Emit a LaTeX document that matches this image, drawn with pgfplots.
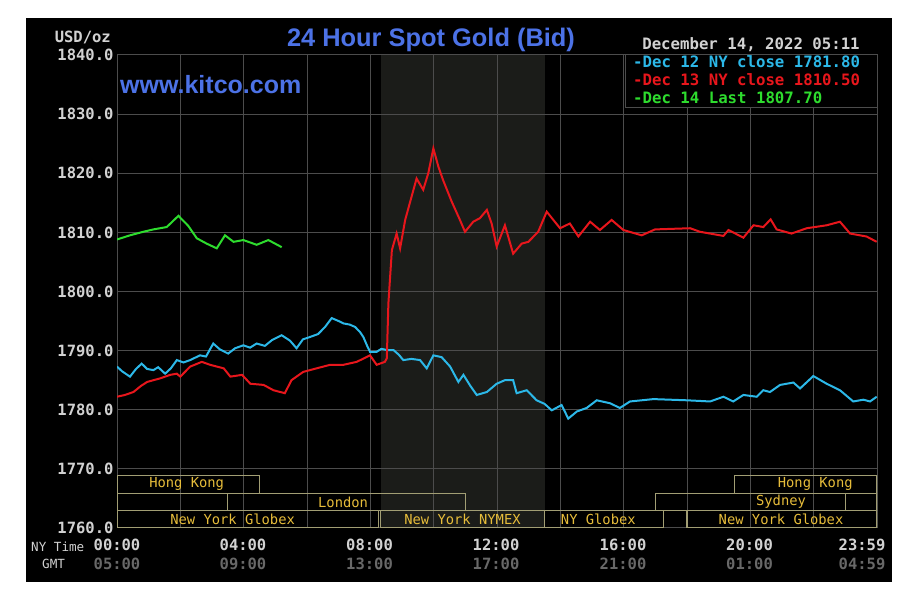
\documentclass[border=0pt]{standalone}
\usepackage{pgfplots}
\pgfplotsset{compat=1.18}
\usepackage{fontspec}
\setmainfont{Liberation Sans}
\newfontfamily\mono{DejaVu Sans Mono}

\definecolor{gridc}{HTML}{4C4C4C}
\definecolor{shadec}{HTML}{1B1C19}
\definecolor{tickc}{HTML}{D2D2D2}
\definecolor{gmtc}{HTML}{686868}
\definecolor{kitco}{HTML}{4C72E6}
\definecolor{boxc}{HTML}{A29E74}
\definecolor{mktc}{HTML}{E6BC3A}
\definecolor{s12}{HTML}{2CB8E8}
\definecolor{s13}{HTML}{E8161C}
\definecolor{s14}{HTML}{2EDC2E}

\begin{document}
\begin{tikzpicture}
\begin{scope}[x=1pt,y=1pt]
\fill[white] (0,0) rectangle (912,602);
\fill[black] (26,20) rectangle (892,584);
% NYMEX session shading, 08:20 to 13:30
\fill[shadec] (380.9,74) rectangle (544.5,547);
\end{scope}

\begin{axis}[
    at={(117pt,74pt)}, anchor=south west,
    scale only axis, width=760pt, height=473pt,
    xmin=0, xmax=24, ymin=1760, ymax=1840,
    xtick={0,2,...,24}, xticklabels={},
    ytick={1760,1770,...,1840},
    yticklabels={1760.0,1770.0,1780.0,1790.0,1800.0,1810.0,1820.0,1830.0,1840.0},
    yticklabel style={font=\mono\bfseries\fontsize{15.5}{18}\selectfont, text=tickc},
    major tick length=0pt,
    grid=major,
    major grid style={gridc, line width=1pt},
    axis line style={gridc, line width=1pt},
    ]
  % market session boxes
  \begin{scope}[boxc, line width=1.2pt]
    \draw (axis cs:0,1765.9) rectangle (axis cs:4.5,1768.85);
    \draw (axis cs:19.5,1765.9) rectangle (axis cs:24,1768.85);
    \draw (axis cs:0,1762.95) rectangle (axis cs:3.5,1765.9);
    \draw (axis cs:3.5,1762.95) rectangle (axis cs:11,1765.9);
    \draw (axis cs:17,1762.95) rectangle (axis cs:23,1765.9);
    \draw (axis cs:23,1762.95) rectangle (axis cs:24,1765.9);
    \draw (axis cs:0,1760) rectangle (axis cs:8.25,1762.95);
    \draw (axis cs:8.333,1760) rectangle (axis cs:13.5,1762.95);
    \draw (axis cs:13.5,1760) rectangle (axis cs:17.25,1762.95);
    \draw (axis cs:18,1760) rectangle (axis cs:24,1762.95);
  \end{scope}
  \begin{scope}[every node/.style={text=mktc, font=\mono\fontsize{13.8}{16}\selectfont, inner sep=0pt}]
    \node at (axis cs:2.2,1767.4) {Hong Kong};
    \node at (axis cs:7.14,1764.4) {London};
    \node at (axis cs:3.65,1761.45) {New York Globex};
    \node at (axis cs:10.91,1761.45) {New York NYMEX};
    \node at (axis cs:15.2,1761.45) {NY Globex};
    \node at (axis cs:20.97,1761.45) {New York Globex};
    \node at (axis cs:20.97,1764.4) {Sydney};
    \node at (axis cs:22.05,1767.4) {Hong Kong};
  \end{scope}

  % Dec 12 NY close
  \addplot[s12, line width=2pt] coordinates {
    (0.00,1787.3) (0.16,1786.5) (0.41,1785.6) (0.60,1786.9) (0.78,1787.8)
    (0.95,1786.9) (1.15,1786.7) (1.30,1787.2) (1.52,1786.1) (1.70,1787.0)
    (1.89,1788.4) (2.10,1788.0) (2.31,1788.4) (2.62,1789.2) (2.81,1789.0)
    (3.04,1791.2) (3.25,1790.2) (3.51,1789.5) (3.73,1790.4) (3.99,1790.9)
    (4.20,1790.5) (4.41,1791.2) (4.67,1790.8) (4.90,1791.8) (5.20,1792.6)
    (5.46,1791.7) (5.67,1790.4) (5.87,1791.9) (6.09,1792.3) (6.35,1792.8)
    (6.57,1794.0) (6.78,1795.5) (7.00,1795.0) (7.15,1794.6) (7.35,1794.4)
    (7.52,1794.0) (7.68,1793.1) (7.78,1792.3) (7.90,1790.8) (7.99,1789.8)
    (8.20,1789.8) (8.35,1790.3) (8.52,1790.1) (8.73,1790.1) (8.90,1789.3)
    (9.04,1788.4) (9.30,1788.6) (9.57,1788.4) (9.78,1787.0) (9.99,1789.2)
    (10.25,1788.9) (10.52,1787.3) (10.78,1784.7) (10.94,1785.9) (11.15,1784.1)
    (11.36,1782.5) (11.68,1783.0) (11.99,1784.4) (12.25,1785.0) (12.51,1785.0)
    (12.62,1782.8) (12.94,1783.3) (13.25,1781.6) (13.50,1781.0) (13.73,1779.9)
    (14.04,1780.8) (14.25,1778.5) (14.52,1779.7) (14.83,1780.3) (15.15,1781.6)
    (15.57,1781.1) (15.88,1780.3) (16.20,1781.4) (16.94,1781.8) (17.99,1781.6)
    (18.73,1781.4) (19.15,1782.2) (19.46,1781.4) (19.78,1782.5) (20.20,1782.2)
    (20.41,1783.3) (20.62,1783.0) (20.94,1784.2) (21.36,1784.6) (21.57,1783.6)
    (21.99,1785.7) (22.41,1784.4) (22.83,1783.3) (23.25,1781.4) (23.57,1781.7)
    (23.78,1781.4) (23.99,1782.2)
  };
  % Dec 13 NY close
  \addplot[s13, line width=2pt] coordinates {
    (0.00,1782.2) (0.25,1782.5) (0.52,1783.0) (0.75,1784.0) (0.95,1784.7)
    (1.15,1785.0) (1.36,1785.3) (1.68,1785.9) (1.89,1786.1) (2.00,1785.6)
    (2.31,1787.3) (2.68,1788.1) (2.94,1787.6) (3.37,1787.0) (3.58,1785.6)
    (3.95,1785.9) (4.21,1784.4) (4.63,1784.2) (4.94,1783.3) (5.30,1782.8)
    (5.51,1785.0) (5.88,1786.4) (6.30,1787.0) (6.73,1787.6) (7.15,1787.6)
    (7.57,1788.1) (7.99,1789.2) (8.20,1787.6) (8.46,1788.1) (8.52,1788.7)
    (8.57,1798.0) (8.68,1807.0) (8.83,1809.8) (8.94,1807.3) (9.10,1812.1)
    (9.30,1816.0) (9.46,1819.1) (9.67,1817.2) (9.83,1820.0) (9.99,1824.2)
    (10.15,1821.1) (10.30,1818.8) (10.57,1815.2) (10.83,1812.1) (10.99,1810.1)
    (11.25,1811.8) (11.46,1812.4) (11.68,1813.8) (11.83,1811.5) (11.99,1807.6)
    (12.25,1811.2) (12.51,1806.4) (12.78,1808.1) (12.99,1808.4) (13.30,1810.1)
    (13.57,1813.5) (13.99,1810.7) (14.30,1811.5) (14.57,1809.3) (14.94,1811.8)
    (15.25,1810.4) (15.62,1812.1) (15.99,1810.4) (16.57,1809.5) (16.99,1810.5)
    (18.10,1810.7) (18.41,1810.1) (19.15,1809.4) (19.31,1810.4) (19.78,1809.1)
    (20.10,1811.2) (20.41,1810.9) (20.64,1812.2) (20.83,1810.5) (21.30,1809.8)
    (21.78,1810.7) (22.41,1811.2) (22.83,1811.8) (23.15,1809.8) (23.67,1809.3)
    (23.99,1808.4)
  };
  % Dec 14 last
  \addplot[s14, line width=2pt] coordinates {
    (0.00,1808.8) (0.41,1809.5) (0.83,1810.1) (1.15,1810.5) (1.57,1810.9)
    (1.94,1812.8) (2.25,1811.1) (2.52,1809.0) (2.83,1808.1) (3.15,1807.3)
    (3.41,1809.5) (3.68,1808.4) (3.99,1808.7) (4.41,1807.9) (4.78,1808.7)
    (5.20,1807.5)
  };
\end{axis}

\begin{scope}[x=1pt,y=1pt]
  % titles
  \node[text=kitco, font=\bfseries\fontsize{25.4}{28}\selectfont] at (431,562) {24 Hour Spot Gold (Bid)};
  \node[text=kitco, font=\bfseries\fontsize{25}{28}\selectfont, anchor=west, inner sep=0pt] at (120,517) {www.kitco.com};
  \node[text=tickc, font=\mono\bfseries\fontsize{15.5}{18}\selectfont, anchor=east, inner sep=0pt] at (111,565) {USD/oz};
  \node[text=tickc, font=\mono\bfseries\fontsize{15.7}{18}\selectfont] at (751,557) {December 14, 2022 05:11};
  % legend
  \fill[black] (625,494) rectangle (877,547);
  \draw[gridc, line width=1pt] (625,494) rectangle (877,547);
  \begin{scope}[every node/.style={anchor=west, inner sep=0pt, font=\mono\bfseries\fontsize{15.7}{18}\selectfont}]
    \node[text=s12] at (633,540) {-Dec 12 NY close 1781.80};
    \node[text=s13] at (633,522) {-Dec 13 NY close 1810.50};
    \node[text=s14] at (633,504) {-Dec 14 Last 1807.70};
  \end{scope}
  % time axis labels
  \begin{scope}[every node/.style={font=\mono\bfseries\fontsize{15.5}{18}\selectfont}]
    \node[text=tickc] at (117,57) {00:00};
    \node[text=tickc] at (243,57) {04:00};
    \node[text=tickc] at (369.5,57) {08:00};
    \node[text=tickc] at (496,57) {12:00};
    \node[text=tickc] at (623,57) {16:00};
    \node[text=tickc] at (749.5,57) {20:00};
    \node[text=tickc] at (862,57) {23:59};
    \node[text=gmtc] at (117,38) {05:00};
    \node[text=gmtc] at (243,38) {09:00};
    \node[text=gmtc] at (369.5,38) {13:00};
    \node[text=gmtc] at (496,38) {17:00};
    \node[text=gmtc] at (623,38) {21:00};
    \node[text=gmtc] at (749.5,38) {01:00};
    \node[text=gmtc] at (862,38) {04:59};
  \end{scope}
  \node[text=tickc, font=\mono\fontsize{12.6}{15}\selectfont, anchor=west, inner sep=0pt] at (31,55) {NY Time};
  \node[text=tickc, font=\mono\fontsize{12.6}{15}\selectfont, anchor=west, inner sep=0pt] at (42,38) {GMT};
\end{scope}
\end{tikzpicture}
\end{document}
